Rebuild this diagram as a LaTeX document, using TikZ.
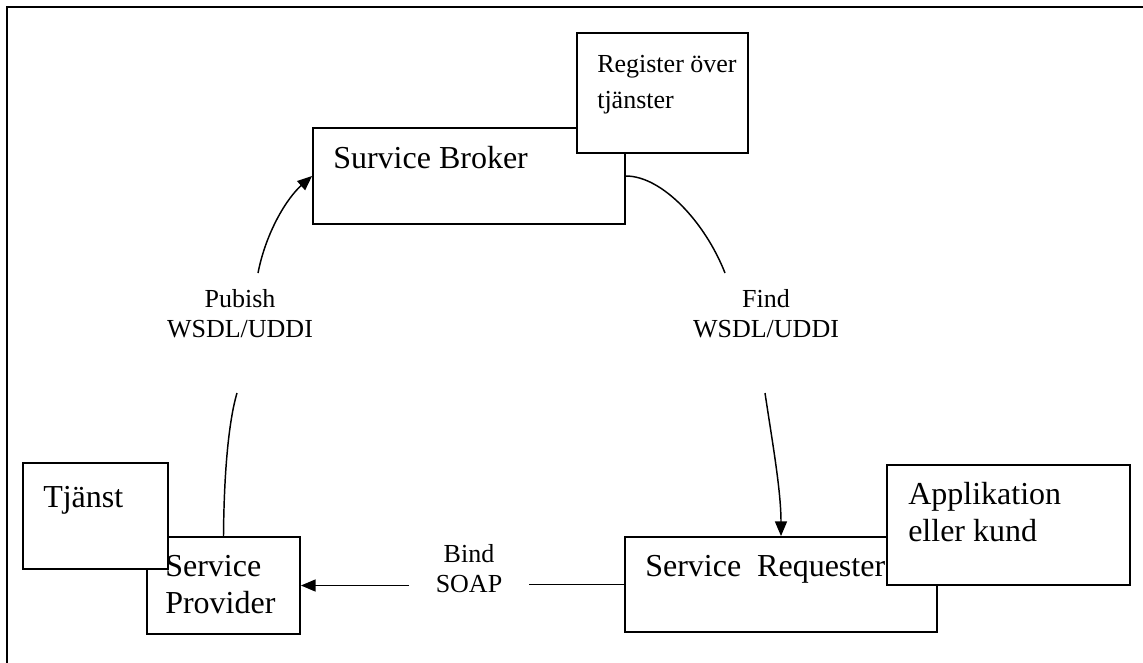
\documentclass[tikz,border=0pt]{standalone}
\usepackage{fontspec}
\setmainfont{Liberation Serif}
\usetikzlibrary{arrows.meta,fit}
\begin{document}
\begin{tikzpicture}[x=0.75pt,y=-0.75pt,
  box/.style={draw,line width=1.4pt,fill=white,inner sep=0pt},
  big/.style={font=\fontsize{24}{28}\selectfont,inner sep=0pt,anchor=base west},
  lbl/.style={font=\fontsize{19.5}{24}\selectfont,inner sep=0pt,anchor=base},
  conn/.style={line width=1.1pt},
  tip/.style={-{Triangle[length=11pt,width=9pt]}}
]
\useasboundingbox (0,0) rectangle (1143,662);
% outer frame (runs off the page on the right and at the bottom)
\draw[line width=2pt] (1150,7) -- (7,7) -- (7,670);

% boxes
\node[box, fit={(313,128) (625,224)}] (broker) {};
\node[box, fit={(577,33) (748,153)}] (register) {};
\node[box, fit={(147,537) (300,634)}] (provider) {};
\node[box, fit={(23,463) (168,569)}] (tjanst) {};
\node[box, fit={(625,537) (937,632)}] (requester) {};
\node[box, fit={(887,465) (1130,585)}] (applik) {};

% box texts
\node[big] (tBroker) at (333,168) {Survice Broker};
\node[big,font=\fontsize{19.5}{24}\selectfont] (tReg1) at (597,72) {Register över};
\node[big,font=\fontsize{19.5}{24}\selectfont] (tReg2) at (597,108) {tjänster};
\node[big] (tTj) at (43,507) {Tjänst};
\node[big] (tProv1) at (165,576) {Service};
\node[big] (tProv2) at (165,613) {Provider};
\node[big] (tReq) at (645,576) {Service\ \ Requester};
\node[big] (tApp1) at (908,504) {Applikation};
\node[big] (tApp2) at (908,541) {eller kund};

% connector labels
\node[lbl] (pub1) at (240,307) {Pubish};
\node[lbl] (pub2) at (240,337) {WSDL/UDDI};
\node[lbl] (find1) at (766,307) {Find};
\node[lbl] (find2) at (766,337) {WSDL/UDDI};
\node[lbl] (bind1) at (469,562) {Bind};
\node[lbl] (bind2) at (469,592) {SOAP};

% free ends of the broken connectors
\coordinate (pubA) at (258,273);
\coordinate (pubB) at (237,393);
\coordinate (findA) at (725,273);
\coordinate (findB) at (765,393);
\coordinate (bindA) at (409,585.5);
\coordinate (bindB) at (529,584.5);

% publish
\draw[conn] (provider.north) .. controls (224,470) and (229,420) .. (pubB);
\draw[conn,tip] (pubA) .. controls (266,232) and (287,198) .. (broker.west);
% find
\draw[conn] (broker.east) .. controls (662,176) and (705,222) .. (findA);
\draw[conn,tip] (findB) .. controls (772,440) and (781,490) .. (requester.north);
% bind
\draw[conn,tip] (bindA) -- (provider.east);
\draw[conn] (bindB) -- (requester.west);
\end{tikzpicture}
\end{document}
